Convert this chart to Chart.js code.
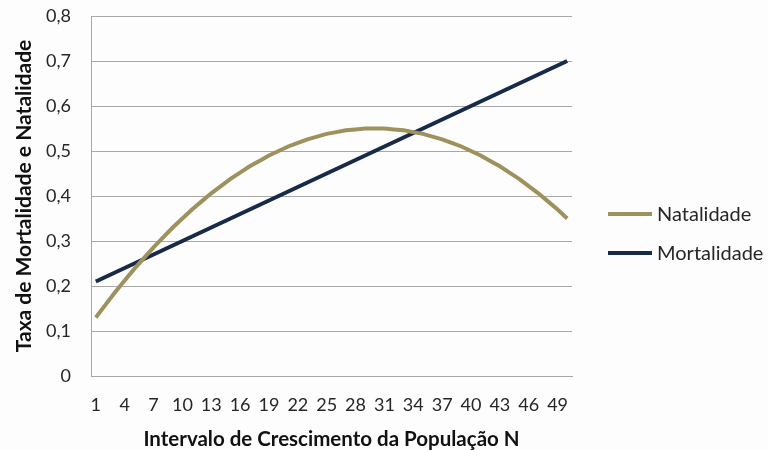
<!DOCTYPE html>
<html>
<head>
<meta charset="utf-8">
<script src="https://cdn.jsdelivr.net/npm/chart.js@4/dist/chart.umd.min.js"></script>
<style>
  html, body { margin: 0; padding: 0; background: #fdfdfd; }
  #wrap { width: 768px; height: 450px; }
</style>
</head>
<body>
<div id="wrap"><canvas id="c" width="768" height="450"></canvas></div>
<script>
// Population size N (1..50)
const categories = [
  1, 2, 3, 4, 5, 6, 7, 8, 9, 10,
  11, 12, 13, 14, 15, 16, 17, 18, 19, 20,
  21, 22, 23, 24, 25, 26, 27, 28, 29, 30,
  31, 32, 33, 34, 35, 36, 37, 38, 39, 40,
  41, 42, 43, 44, 45, 46, 47, 48, 49, 50
];

// Birth rate per N
const natalidade = [
  0.13, 0.158, 0.186, 0.212, 0.238, 0.262, 0.286, 0.308, 0.33, 0.35,
  0.37, 0.388, 0.406, 0.422, 0.438, 0.452, 0.466, 0.478, 0.49, 0.5,
  0.51, 0.518, 0.526, 0.532, 0.538, 0.542, 0.546, 0.548, 0.55, 0.55,
  0.55, 0.548, 0.546, 0.542, 0.538, 0.532, 0.526, 0.518, 0.51, 0.5,
  0.49, 0.478, 0.466, 0.452, 0.438, 0.422, 0.406, 0.388, 0.37, 0.35
];

// Death rate per N
const mortalidade = [
  0.21, 0.22, 0.23, 0.24, 0.25, 0.26, 0.27, 0.28, 0.29, 0.30,
  0.31, 0.32, 0.33, 0.34, 0.35, 0.36, 0.37, 0.38, 0.39, 0.40,
  0.41, 0.42, 0.43, 0.44, 0.45, 0.46, 0.47, 0.48, 0.49, 0.50,
  0.51, 0.52, 0.53, 0.54, 0.55, 0.56, 0.57, 0.58, 0.59, 0.60,
  0.61, 0.62, 0.63, 0.64, 0.65, 0.66, 0.67, 0.68, 0.69, 0.70
];

const yTicks = [0, 0.1, 0.2, 0.3, 0.4, 0.5, 0.6, 0.7, 0.8];

const COLOR_NAT = '#9d925e';
const COLOR_MORT = '#172a48';
const TEXT = '#262626';
const GRID = '#a8a8a8';
const FONT = 'Lato, "Open Sans", sans-serif';

const bg = {
  id: 'bg',
  beforeDraw(chart) {
    const ctx = chart.ctx;
    ctx.save();
    ctx.fillStyle = '#fdfdfd';
    ctx.fillRect(0, 0, chart.width, chart.height);
    ctx.restore();
  }
};

// Legend to the right of the plot: a short line sample followed by the series name
const sideLegend = {
  id: 'sideLegend',
  afterDraw(chart) {
    const ctx = chart.ctx;
    const area = chart.chartArea;
    const x0 = area.right + 36;
    const sampleW = 44;
    const rowGap = 39;
    const midY = chart.height / 2 + 8.5;
    const sets = chart.data.datasets;
    const startY = midY - (sets.length - 1) * rowGap / 2;
    ctx.save();
    ctx.font = '20px ' + FONT;
    ctx.textBaseline = 'middle';
    ctx.textAlign = 'left';
    sets.forEach((ds, i) => {
      const y = startY + i * rowGap;
      ctx.strokeStyle = ds.borderColor;
      ctx.lineWidth = ds.borderWidth;
      ctx.beginPath();
      ctx.moveTo(x0, y);
      ctx.lineTo(x0 + sampleW, y);
      ctx.stroke();
      ctx.fillStyle = TEXT;
      ctx.fillText(ds.label, x0 + sampleW + 5, y + 1);
    });
    ctx.restore();
  }
};

new Chart(document.getElementById('c'), {
  type: 'line',
  data: {
    labels: categories,
    datasets: [
      {
        label: 'Natalidade',
        data: natalidade,
        borderColor: COLOR_NAT,
        backgroundColor: COLOR_NAT,
        borderWidth: 4,
        pointRadius: 0,
        tension: 0
      },
      {
        label: 'Mortalidade',
        data: mortalidade,
        borderColor: COLOR_MORT,
        backgroundColor: COLOR_MORT,
        borderWidth: 4,
        pointRadius: 0,
        tension: 0
      }
    ]
  },
  options: {
    responsive: false,
    animation: false,
    devicePixelRatio: 1,
    layout: { padding: { top: 16, right: 196, bottom: 0, left: 12 } },
    plugins: {
      tooltip: { enabled: false },
      legend: { display: false }
    },
    scales: {
      x: {
        offset: true,
        grid: { display: false, drawTicks: false },
        border: { display: true, color: GRID, width: 1 },
        ticks: {
          autoSkip: false,
          maxRotation: 0,
          padding: 18,
          color: TEXT,
          font: { family: FONT, size: 18 },
          callback(value, index) {
            return index % 3 === 0 ? categories[index] : '';
          }
        },
        title: {
          display: true,
          text: 'Intervalo de Crescimento da População N',
          color: '#111',
          font: { family: FONT, size: 20.5, weight: 'bold' },
          padding: { top: 10, bottom: -2 }
        },
        afterFit(axis) {
          axis.height = 74;
          axis.paddingLeft = 0;
          axis.paddingRight = 0;
        }
      },
      y: {
        min: 0,
        max: 0.8,
        afterBuildTicks(axis) {
          axis.ticks = yTicks.map(v => ({ value: v }));
        },
        grid: { color: GRID, lineWidth: 1, drawTicks: false },
        border: { display: true, color: GRID, width: 1 },
        ticks: {
          padding: 20,
          color: TEXT,
          font: { family: FONT, size: 18 },
          callback(value) {
            return value === 0 ? '0' : value.toFixed(1).replace('.', ',');
          }
        },
        title: {
          display: true,
          text: 'Taxa de Mortalidade e Natalidade',
          color: '#111',
          font: { family: FONT, size: 21, weight: 'bold' },
          padding: { top: 0, bottom: 8 }
        },
        afterFit(axis) {
          axis.width = 79;
          axis.paddingTop = 0;
          axis.paddingBottom = 0;
        }
      }
    }
  },
  plugins: [bg, sideLegend]
});
</script>
</body>
</html>
